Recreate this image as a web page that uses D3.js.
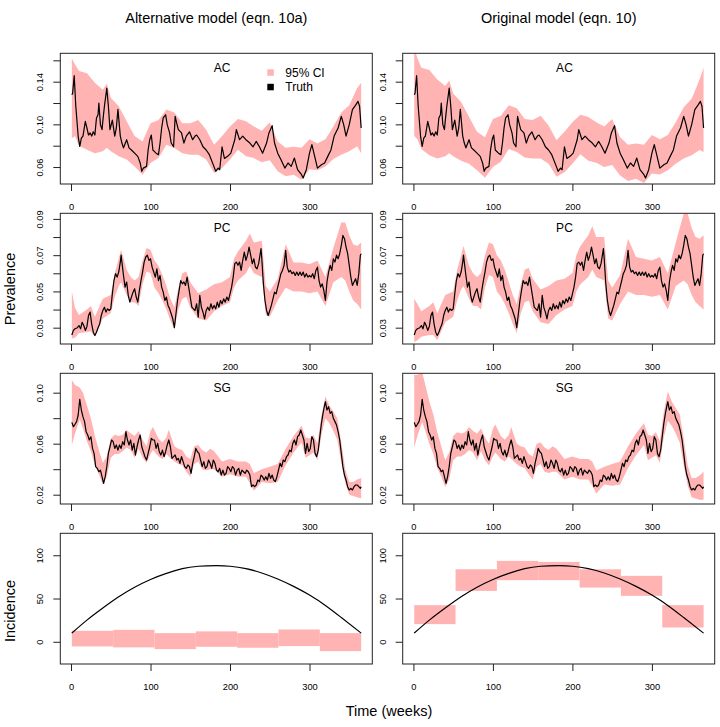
<!DOCTYPE html>
<html><head><meta charset="utf-8">
<script src="https://cdn.jsdelivr.net/npm/d3@7"></script>
<style>
body{margin:0;background:#fff}
svg{display:block}
text{font-family:"Liberation Sans",Arial,Helvetica,sans-serif;fill:#000}
</style>
</head><body>
<svg id="c" width="720" height="727"></svg>
<script>
// ---------------- DATA ----------------
const columnTitles = ["Alternative model (eqn. 10a)", "Original model (eqn. 10)"];
const seriesNames = ["AC", "PC", "SG"];
const xTicks = [0, 100, 200, 300];
const legendLabels = ["95% CI", "Truth"];

// truth prevalence [week, value]
const acTruth = [[1,0.1278],[2,0.129],[4,0.1456],[6,0.117],[9,0.0888],[11,0.0794],[13,0.087],[15,0.089],[18,0.1028],[20,0.0966],[22,0.090],[24,0.092],[26,0.089],[28,0.093],[30,0.090],[32,0.106],[34,0.109],[35,0.120],[37,0.0997],[39,0.095],[40,0.103],[42,0.117],[45,0.134],[47,0.117],[49,0.095],[52,0.104],[55,0.089],[57,0.0966],[59,0.114],[62,0.089],[64,0.0825],[66,0.078],[70,0.0856],[73,0.078],[76,0.076],[80,0.073],[84,0.070],[87,0.0638],[89,0.056],[91,0.059],[95,0.0606],[97,0.076],[99,0.0856],[101,0.090],[103,0.076],[107,0.073],[110,0.0716],[112,0.0825],[114,0.0966],[116,0.106],[119,0.109],[121,0.0997],[124,0.092],[126,0.0825],[129,0.079],[131,0.1075],[133,0.101],[135,0.095],[139,0.092],[142,0.0825],[145,0.089],[149,0.093],[153,0.0856],[156,0.089],[158,0.090],[162,0.0856],[166,0.079],[170,0.076],[174,0.0716],[179,0.062],[182,0.056],[185,0.059],[187,0.0575],[190,0.079],[193,0.068],[197,0.070],[201,0.073],[206,0.0856],[208,0.095],[212,0.0856],[216,0.089],[220,0.0856],[225,0.0825],[229,0.079],[233,0.084],[237,0.079],[241,0.073],[246,0.0825],[249,0.092],[253,0.0988],[256,0.0825],[260,0.073],[264,0.067],[269,0.059],[273,0.0638],[277,0.0606],[281,0.0684],[285,0.0575],[290,0.0528],[292,0.0497],[296,0.0575],[300,0.073],[303,0.081],[306,0.0716],[310,0.059],[315,0.0622],[319,0.0638],[323,0.070],[327,0.076],[331,0.089],[336,0.0966],[340,0.1075],[343,0.0997],[346,0.089],[350,0.0997],[354,0.1138],[358,0.118],[361,0.1216],[363,0.117],[365,0.0966]];

const pcTruth = [[1,0.026],[3,0.0285],[5,0.0294],[8,0.030],[10,0.0312],[12,0.0294],[14,0.033],[16,0.0312],[18,0.0285],[20,0.0307],[22,0.0367],[24,0.0386],[26,0.032],[28,0.0275],[30,0.0257],[32,0.0275],[34,0.030],[36,0.032],[38,0.0367],[40,0.0395],[42,0.0413],[44,0.0386],[46,0.0404],[48,0.0395],[50,0.0404],[52,0.0487],[54,0.056],[56,0.0598],[58,0.0579],[60,0.0607],[62,0.0662],[63,0.070],[64,0.0662],[66,0.0588],[68,0.0524],[70,0.0552],[72,0.0478],[74,0.0441],[76,0.0469],[78,0.0496],[80,0.0515],[82,0.0469],[84,0.0441],[86,0.0506],[88,0.056],[90,0.0607],[92,0.0662],[94,0.069],[96,0.070],[98,0.0671],[100,0.068],[102,0.0634],[104,0.0607],[106,0.0579],[108,0.0625],[110,0.056],[112,0.0588],[114,0.0524],[116,0.0496],[118,0.045],[120,0.0469],[122,0.0423],[124,0.0404],[126,0.0377],[128,0.0349],[130,0.030],[132,0.0377],[134,0.045],[136,0.0506],[138,0.056],[140,0.0542],[142,0.0552],[144,0.0533],[146,0.0579],[148,0.0524],[150,0.0469],[152,0.0413],[154,0.0404],[156,0.0395],[158,0.0432],[160,0.0358],[162,0.0478],[164,0.0413],[166,0.0386],[168,0.0349],[170,0.0395],[172,0.0413],[174,0.0395],[176,0.0432],[178,0.0404],[180,0.0423],[182,0.0404],[184,0.0441],[186,0.0413],[188,0.045],[190,0.0432],[192,0.0459],[194,0.0441],[196,0.0469],[198,0.045],[200,0.0487],[202,0.0524],[204,0.0579],[206,0.0653],[208,0.0662],[210,0.0644],[212,0.0662],[214,0.0616],[216,0.0671],[218,0.0717],[220,0.0671],[222,0.070],[224,0.0745],[226,0.070],[228,0.0653],[230,0.068],[232,0.0634],[234,0.0625],[236,0.0653],[238,0.0708],[239,0.0736],[240,0.068],[242,0.0542],[244,0.045],[246,0.0395],[248,0.0367],[250,0.0395],[252,0.0423],[254,0.0459],[256,0.0496],[258,0.0487],[260,0.0524],[262,0.056],[264,0.0598],[266,0.0616],[268,0.0644],[270,0.0727],[272,0.0634],[274,0.0607],[276,0.0616],[278,0.0598],[280,0.0607],[282,0.0588],[284,0.0607],[286,0.0588],[288,0.0607],[290,0.0588],[292,0.0607],[294,0.0579],[296,0.0598],[298,0.0579],[300,0.0588],[302,0.0579],[304,0.0598],[306,0.057],[308,0.0616],[310,0.0634],[312,0.056],[314,0.0524],[316,0.0542],[318,0.0506],[320,0.045],[322,0.0552],[324,0.0607],[326,0.0644],[328,0.0616],[330,0.068],[332,0.0662],[334,0.070],[336,0.068],[338,0.0708],[340,0.0754],[342,0.0809],[344,0.0791],[346,0.0745],[348,0.0708],[350,0.0644],[352,0.0579],[354,0.0533],[356,0.0552],[358,0.057],[360,0.0533],[362,0.0598],[364,0.070],[365,0.0708]];

const sgTruth = [[1,0.0767],[3,0.0733],[5,0.0752],[7,0.0773],[9,0.0825],[11,0.0948],[13,0.0864],[15,0.0812],[17,0.0773],[19,0.0694],[21,0.0668],[23,0.0629],[25,0.0655],[27,0.0563],[29,0.0524],[31,0.042],[33,0.0407],[35,0.038],[37,0.0393],[39,0.0341],[41,0.0289],[43,0.0341],[45,0.042],[47,0.0524],[49,0.0576],[51,0.0629],[53,0.0616],[55,0.0563],[57,0.059],[59,0.055],[61,0.059],[63,0.0563],[65,0.0616],[67,0.059],[69,0.0694],[71,0.0629],[73,0.059],[75,0.0629],[77,0.055],[79,0.0603],[81,0.0511],[83,0.0576],[85,0.0629],[87,0.0668],[89,0.0576],[91,0.0537],[93,0.0498],[95,0.0472],[97,0.0524],[99,0.0576],[101,0.0642],[103,0.0629],[105,0.0629],[107,0.0563],[109,0.0603],[111,0.0537],[113,0.0511],[115,0.055],[117,0.0498],[119,0.0537],[121,0.059],[123,0.0629],[125,0.0576],[127,0.0485],[129,0.0498],[131,0.0511],[133,0.0472],[135,0.0485],[137,0.0446],[139,0.0498],[141,0.0459],[143,0.042],[145,0.0407],[147,0.0433],[149,0.042],[151,0.0367],[153,0.0446],[155,0.0498],[157,0.0563],[159,0.0537],[161,0.0524],[163,0.0472],[165,0.042],[167,0.0459],[169,0.0407],[171,0.042],[173,0.0472],[175,0.0446],[177,0.0407],[179,0.0472],[181,0.0446],[183,0.0393],[185,0.038],[187,0.0407],[189,0.0354],[191,0.0393],[193,0.0354],[195,0.0367],[197,0.042],[199,0.0407],[201,0.038],[203,0.042],[205,0.0407],[207,0.0354],[209,0.0393],[211,0.0407],[213,0.0354],[215,0.0393],[217,0.038],[219,0.0367],[221,0.0393],[223,0.038],[225,0.0354],[227,0.0263],[229,0.0276],[231,0.0263],[233,0.0276],[235,0.0315],[237,0.0302],[239,0.0354],[241,0.0341],[243,0.0315],[245,0.0341],[247,0.0315],[249,0.0367],[251,0.0328],[253,0.0354],[255,0.0315],[257,0.0302],[259,0.0341],[261,0.0393],[263,0.0446],[265,0.042],[267,0.0472],[269,0.0459],[271,0.0498],[273,0.0511],[275,0.055],[277,0.0537],[279,0.0603],[281,0.0629],[283,0.059],[285,0.0655],[287,0.0668],[289,0.0707],[291,0.0668],[293,0.0629],[295,0.0524],[297,0.0603],[299,0.0537],[301,0.0563],[303,0.0655],[305,0.0629],[307,0.0524],[309,0.0498],[311,0.055],[313,0.0655],[315,0.0759],[317,0.0838],[319,0.0903],[320,0.0929],[322,0.0864],[324,0.089],[326,0.0838],[328,0.0851],[330,0.0799],[332,0.0773],[334,0.0746],[336,0.0694],[338,0.0629],[340,0.0524],[342,0.042],[344,0.0354],[346,0.0315],[348,0.0263],[350,0.0237],[352,0.025],[354,0.0237],[356,0.0263],[358,0.0276],[360,0.0276],[362,0.0263],[364,0.025],[365,0.0263]];

// 95% CI [week, lower, upper]
const acCIAlt = [[1,0.087,0.162],[5,0.089,0.156],[10,0.080,0.150],[20,0.0763,0.148],[30,0.073,0.139],[40,0.0747,0.1325],[45,0.078,0.138],[50,0.0747,0.125],[60,0.070,0.117],[70,0.067,0.103],[80,0.0606,0.089],[90,0.0528,0.084],[100,0.0638,0.101],[110,0.0684,0.104],[120,0.081,0.114],[130,0.0778,0.111],[140,0.073,0.101],[150,0.0716,0.101],[160,0.0716,0.104],[170,0.067,0.095],[180,0.0544,0.081],[190,0.059,0.089],[200,0.067,0.098],[210,0.0763,0.105],[220,0.070,0.103],[230,0.0684,0.098],[240,0.0644,0.094],[250,0.0663,0.102],[260,0.056,0.084],[270,0.0513,0.078],[280,0.0528,0.079],[290,0.048,0.078],[300,0.058,0.086],[310,0.0569,0.082],[320,0.0606,0.086],[330,0.0675,0.098],[340,0.0716,0.111],[350,0.0747,0.118],[360,0.0794,0.134],[365,0.073,0.139]];
const acCIOrig = [[1,0.089,0.172],[5,0.086,0.162],[10,0.077,0.153],[20,0.071,0.151],[30,0.068,0.142],[40,0.070,0.136],[45,0.073,0.141],[50,0.070,0.129],[60,0.066,0.121],[70,0.063,0.107],[80,0.057,0.093],[90,0.050,0.088],[100,0.060,0.105],[110,0.065,0.108],[120,0.077,0.118],[130,0.074,0.115],[140,0.069,0.105],[150,0.068,0.104],[160,0.068,0.108],[170,0.063,0.099],[180,0.051,0.085],[190,0.055,0.093],[200,0.063,0.102],[210,0.072,0.109],[220,0.066,0.107],[230,0.064,0.102],[240,0.060,0.098],[250,0.062,0.105],[260,0.052,0.088],[270,0.047,0.081],[280,0.049,0.082],[290,0.045,0.081],[300,0.054,0.090],[310,0.053,0.086],[320,0.057,0.090],[330,0.063,0.102],[340,0.068,0.116],[350,0.071,0.124],[360,0.076,0.142],[365,0.074,0.153]];

const pcCIAlt = [[1,0.024,0.050],[5,0.0245,0.041],[10,0.027,0.037],[20,0.0275,0.040],[25,0.028,0.042],[30,0.025,0.036],[40,0.035,0.046],[50,0.038,0.048],[55,0.047,0.060],[60,0.053,0.068],[63,0.055,0.073],[70,0.048,0.062],[75,0.044,0.058],[80,0.044,0.056],[85,0.042,0.058],[90,0.054,0.067],[95,0.061,0.074],[100,0.060,0.073],[105,0.052,0.067],[110,0.049,0.064],[115,0.045,0.059],[120,0.040,0.053],[125,0.034,0.046],[130,0.029,0.041],[135,0.040,0.052],[140,0.046,0.060],[145,0.047,0.061],[150,0.041,0.055],[160,0.035,0.049],[170,0.034,0.051],[180,0.039,0.054],[190,0.042,0.055],[200,0.044,0.058],[205,0.052,0.068],[210,0.056,0.072],[220,0.060,0.078],[225,0.064,0.082],[230,0.060,0.077],[240,0.058,0.078],[245,0.037,0.053],[250,0.036,0.050],[260,0.045,0.057],[270,0.052,0.076],[280,0.050,0.066],[290,0.050,0.066],[300,0.049,0.065],[310,0.050,0.067],[320,0.042,0.058],[330,0.055,0.074],[340,0.058,0.088],[345,0.056,0.088],[350,0.050,0.081],[355,0.045,0.076],[360,0.043,0.075],[365,0.040,0.077]];
const pcCIOrig = [[1,0.022,0.046],[5,0.023,0.043],[10,0.025,0.039],[20,0.026,0.042],[25,0.026,0.044],[30,0.023,0.038],[40,0.033,0.048],[50,0.036,0.050],[55,0.045,0.062],[60,0.051,0.070],[63,0.053,0.075],[70,0.046,0.064],[75,0.042,0.060],[80,0.042,0.058],[85,0.040,0.060],[90,0.052,0.070],[95,0.059,0.077],[100,0.058,0.076],[105,0.050,0.070],[110,0.047,0.067],[115,0.043,0.062],[120,0.038,0.055],[125,0.032,0.048],[130,0.027,0.043],[135,0.038,0.054],[140,0.044,0.062],[145,0.045,0.063],[150,0.039,0.057],[160,0.033,0.051],[170,0.032,0.053],[180,0.037,0.056],[190,0.040,0.057],[200,0.042,0.060],[205,0.050,0.070],[210,0.054,0.075],[220,0.058,0.081],[225,0.062,0.086],[230,0.058,0.080],[240,0.056,0.080],[245,0.035,0.056],[250,0.034,0.052],[260,0.043,0.059],[270,0.050,0.079],[280,0.048,0.069],[290,0.048,0.068],[300,0.047,0.067],[310,0.048,0.069],[320,0.040,0.060],[330,0.053,0.077],[340,0.056,0.093],[345,0.054,0.093],[350,0.048,0.085],[355,0.044,0.080],[360,0.042,0.079],[365,0.040,0.081]];

const sgCIAlt = [[1,0.059,0.110],[5,0.068,0.106],[11,0.079,0.104],[15,0.072,0.100],[20,0.062,0.090],[25,0.054,0.080],[30,0.043,0.066],[35,0.036,0.055],[40,0.028,0.045],[45,0.034,0.050],[50,0.049,0.064],[55,0.052,0.067],[60,0.052,0.066],[65,0.054,0.067],[70,0.057,0.071],[75,0.055,0.068],[80,0.049,0.066],[85,0.056,0.070],[90,0.049,0.063],[95,0.045,0.058],[100,0.052,0.070],[103,0.055,0.073],[110,0.050,0.064],[115,0.048,0.061],[120,0.052,0.065],[123,0.050,0.071],[130,0.046,0.058],[135,0.044,0.056],[140,0.043,0.055],[145,0.038,0.050],[150,0.034,0.048],[155,0.044,0.058],[160,0.046,0.059],[165,0.040,0.055],[170,0.039,0.053],[175,0.040,0.056],[180,0.040,0.054],[190,0.034,0.046],[200,0.036,0.048],[210,0.034,0.046],[220,0.034,0.046],[225,0.029,0.044],[230,0.023,0.037],[240,0.030,0.040],[250,0.029,0.042],[260,0.030,0.044],[270,0.043,0.056],[280,0.053,0.066],[290,0.061,0.074],[295,0.049,0.065],[300,0.051,0.064],[305,0.053,0.067],[310,0.047,0.060],[315,0.067,0.082],[320,0.080,0.097],[325,0.076,0.090],[330,0.070,0.085],[335,0.063,0.080],[340,0.045,0.061],[345,0.029,0.040],[350,0.020,0.030],[355,0.019,0.030],[360,0.018,0.032],[365,0.017,0.033]];
const sgCIOrig = [[1,0.057,0.114],[5,0.066,0.114],[11,0.077,0.116],[15,0.070,0.106],[20,0.060,0.093],[25,0.052,0.083],[30,0.041,0.069],[35,0.034,0.058],[40,0.026,0.047],[45,0.032,0.053],[50,0.047,0.066],[55,0.050,0.069],[60,0.050,0.068],[65,0.052,0.069],[70,0.055,0.073],[75,0.053,0.070],[80,0.047,0.068],[85,0.054,0.072],[90,0.047,0.065],[95,0.043,0.060],[100,0.050,0.072],[103,0.053,0.075],[110,0.048,0.066],[115,0.046,0.063],[120,0.050,0.067],[123,0.048,0.073],[130,0.044,0.060],[135,0.042,0.058],[140,0.041,0.057],[145,0.036,0.052],[150,0.032,0.050],[155,0.042,0.060],[160,0.044,0.061],[165,0.038,0.057],[170,0.037,0.055],[175,0.038,0.058],[180,0.038,0.056],[190,0.032,0.048],[200,0.034,0.050],[210,0.032,0.048],[220,0.032,0.048],[225,0.027,0.046],[230,0.021,0.039],[240,0.028,0.042],[250,0.027,0.044],[260,0.028,0.046],[270,0.041,0.058],[280,0.051,0.068],[290,0.059,0.076],[295,0.047,0.067],[300,0.049,0.066],[305,0.051,0.069],[310,0.045,0.062],[315,0.065,0.085],[320,0.078,0.101],[325,0.074,0.093],[330,0.068,0.088],[335,0.061,0.083],[340,0.043,0.064],[345,0.027,0.043],[350,0.018,0.033],[355,0.017,0.033],[360,0.016,0.035],[365,0.016,0.038]];

// incidence
const incTruth = [[1,10],[20,25],[40,39],[60,52],[80,63],[100,72],[120,79],[140,84.5],[160,87.3],[183,88],[200,87.3],[220,84.5],[240,79.5],[260,72.5],[280,64],[300,54],[320,42],[340,28],[365,10]];
const incBreaks = [1,53,105,157,209,261,313,365];
const incAltLo = [-5.4,-6.5,-8.5,-5.8,-6.9,-5.0,-10.8];
const incAltHi = [12.7,13.8,10.0,12.0,10.0,14.2,10.0];
const incOrigLo = [20.4,58.8,71.2,71.2,62.7,53.1,16.5];
const incOrigHi = [42.3,83.8,93.5,92.3,83.8,76.2,42.3];

// y-axis ticks
const acYTicks = [0.06,0.08,0.10,0.12,0.14,0.16], acYLabels = [0.06,0.10,0.14];
const pcYTicks = [0.03,0.04,0.05,0.06,0.07,0.08,0.09], pcYLabels = [0.03,0.05,0.07,0.09];
const sgYTicks = [0.02,0.04,0.06,0.08,0.10], sgYLabels = [0.02,0.06,0.10];
const incYTicks = [0,50,100], incYLabels = [0,50,100];

// ---------------- DRAW ----------------
const svg = d3.select("#c");
const colLeft = [60.3, 402.7], pw = 312;
const rowTop = [53.3, 213.3, 373.3, 533.3], ph = 130.7;
const CI_FILL = "#FFB3B3";
const xDomain = [-13.5, 379];

const rows = [
  {label: seriesNames[0], domain:[0.0441,0.1666], ticks:acYTicks, labels:acYLabels, fmt:d3.format(".2f"), truth:acTruth, ci:[acCIAlt, acCIOrig]},
  {label: seriesNames[1], domain:[0.021,0.0931], ticks:pcYTicks, labels:pcYLabels, fmt:d3.format(".2f"), truth:pcTruth, ci:[pcCIAlt, pcCIOrig]},
  {label: seriesNames[2], domain:[0.0127,0.1152], ticks:sgYTicks, labels:sgYLabels, fmt:d3.format(".2f"), truth:sgTruth, ci:[sgCIAlt, sgCIOrig]},
  {label: null, domain:[-25.7,125.4], ticks:incYTicks, labels:incYLabels, fmt:d3.format("d"), truth:incTruth, blocks:[[incAltLo,incAltHi],[incOrigLo,incOrigHi]]}
];

let clipId = 0;
rows.forEach((row, r) => {
  [0,1].forEach(c => {
    const g = svg.append("g").attr("transform", `translate(${colLeft[c]},${rowTop[r]})`);
    const x = d3.scaleLinear().domain(xDomain).range([0, pw]);
    const y = d3.scaleLinear().domain(row.domain).range([ph, 0]);
    const id = "clip" + (clipId++);
    g.append("clipPath").attr("id", id).append("rect").attr("width", pw).attr("height", ph);
    const plot = g.append("g").attr("clip-path", `url(#${id})`);

    if (row.ci) {
      const area = d3.area().x(d => x(d[0])).y0(d => y(d[1])).y1(d => y(d[2]));
      plot.append("path").attr("d", area(row.ci[c])).attr("fill", CI_FILL);
      const line = d3.line().x(d => x(d[0])).y(d => y(d[1]));
      plot.append("path").attr("d", line(row.truth)).attr("fill","none").attr("stroke","#000").attr("stroke-width",1.2).attr("stroke-linejoin","round");
    } else {
      const [lo, hi] = row.blocks[c];
      const blocks = lo.map((v,i) => ({x0:incBreaks[i], x1:incBreaks[i+1], lo:v, hi:hi[i]}));
      plot.selectAll("rect.blk").data(blocks).enter().append("rect")
        .attr("x", d => x(d.x0)).attr("width", d => x(d.x1) - x(d.x0))
        .attr("y", d => y(d.hi)).attr("height", d => y(d.lo) - y(d.hi))
        .attr("fill", CI_FILL);
      const line = d3.line().x(d => x(d[0])).y(d => y(d[1])).curve(d3.curveNatural);
      plot.append("path").attr("d", line(row.truth)).attr("fill","none").attr("stroke","#000").attr("stroke-width",1.2);
    }

    g.append("rect").attr("width", pw).attr("height", ph).attr("fill","none").attr("stroke","#222").attr("stroke-width",1);

    const xa = g.append("g").attr("transform", `translate(0,${ph})`)
      .call(d3.axisBottom(x).tickValues(xTicks).tickSize(7).tickFormat(d3.format("d")));
    xa.select(".domain").remove();
    xa.selectAll("line").attr("stroke","#222");
    xa.selectAll("text").attr("y", 26).attr("dy", 0).style("font-size","9.3px");

    const ya = g.append("g")
      .call(d3.axisLeft(y).tickValues(row.ticks).tickSize(7)
        .tickFormat(v => row.labels.some(l => Math.abs(l - v) < 1e-9) ? row.fmt(v) : ""));
    ya.select(".domain").remove();
    ya.selectAll("line").attr("stroke","#222");
    ya.selectAll("text").attr("x", null).attr("dy", 0)
      .attr("text-anchor","middle")
      .attr("transform","translate(-17,0) rotate(-90)")
      .style("font-size","9.3px");

    if (row.label) {
      g.append("text").attr("x", x(190)).attr("y", 18.4).attr("text-anchor","middle")
        .style("font-size","12px").text(row.label);
    }

    if (r === 0 && c === 0) {
      const lg = g.append("g").attr("transform","translate(207,0)");
      lg.append("rect").attr("x",0).attr("y",16).attr("width",6.5).attr("height",6.5).attr("fill",CI_FILL);
      lg.append("rect").attr("x",0).attr("y",30.5).attr("width",6.5).attr("height",6.5).attr("fill","#000");
      lg.append("text").attr("x",18).attr("y",23.8).style("font-size","12px").text(legendLabels[0]);
      lg.append("text").attr("x",18).attr("y",38.2).style("font-size","12px").text(legendLabels[1]);
    }
  });
});

[0,1].forEach(c => {
  svg.append("text").attr("x", colLeft[c] + pw/2).attr("y", 23).attr("text-anchor","middle")
    .style("font-size","14.5px").text(columnTitles[c]);
});
svg.append("text").attr("transform","translate(15,289) rotate(-90)").attr("text-anchor","middle")
  .style("font-size","14.5px").text("Prevalence");
svg.append("text").attr("transform","translate(15,611) rotate(-90)").attr("text-anchor","middle")
  .style("font-size","14.5px").text("Incidence");
svg.append("text").attr("x", 389).attr("y", 716).attr("text-anchor","middle")
  .style("font-size","14.5px").text("Time (weeks)");
</script>
</body></html>
